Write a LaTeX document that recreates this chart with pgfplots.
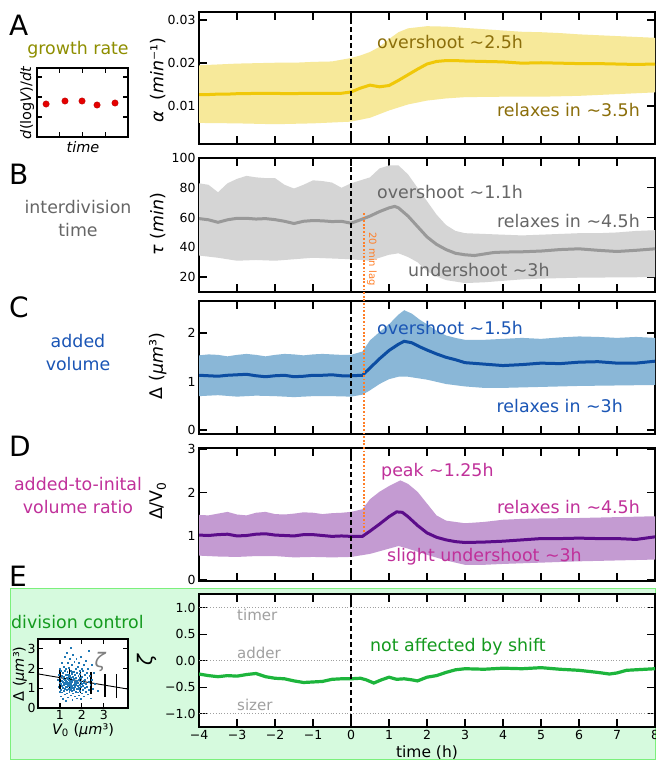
\documentclass[border=0pt]{standalone}
\usepackage{fontspec}
\setmainfont{DejaVu Sans}
\usepackage{pgfplots}
\pgfplotsset{compat=1.18}
\usepgfplotslibrary{fillbetween}

\definecolor{aline}{HTML}{F0C808}
\definecolor{aband}{HTML}{F7E99A}
\definecolor{atext}{HTML}{8B6E0A}
\definecolor{atitle}{HTML}{8E8E00}
\definecolor{bline}{HTML}{999999}
\definecolor{bband}{HTML}{D5D5D5}
\definecolor{btext}{HTML}{666666}
\definecolor{cline}{HTML}{0C4DA2}
\definecolor{cband}{HTML}{8AB7D7}
\definecolor{ctext}{HTML}{1A55B5}
\definecolor{dline}{HTML}{5B0C8A}
\definecolor{dband}{HTML}{C49BD2}
\definecolor{dtext}{HTML}{C0309A}
\definecolor{eline}{HTML}{1DB53C}
\definecolor{etext}{HTML}{149A1E}
\definecolor{boxfill}{HTML}{D6FADE}
\definecolor{boxline}{HTML}{7CF07C}
\definecolor{regime}{HTML}{A0A0A0}
\definecolor{scat}{HTML}{1F77B4}
\definecolor{lag}{HTML}{FF7F28}

\newcommand\ann{\fontsize{17.4}{23}\selectfont}

\pgfplotsset{
  panel/.style={scale only axis, width=456pt, anchor=north west,
    xmin=-4, xmax=8, xtick={-4,...,8}, xticklabels={},
    scaled y ticks=false,
    tick align=inside, tick pos=both, major tick length=8pt,
    tick style={black, line width=1.4pt},
    axis line style={black, line width=1.7pt},
    tick label style={font=\fontsize{12.5}{14}\selectfont},
    axis background/.style={fill=white}},
  inset/.style={scale only axis, anchor=north west,
    tick align=inside, tick pos=both, major tick length=5pt,
    tick style={black, line width=1.1pt},
    axis line style={black, line width=1.3pt},
    tick label style={font=\fontsize{12.5}{14}\selectfont},
    axis background/.style={fill=white}},
  zero/.style={black, dashed, dash pattern=on 5pt off 3pt, line width=1.1pt},
}
\tikzset{lbl/.style={inner sep=0pt}}

\begin{document}
\begin{tikzpicture}[x=1pt,y=1pt]
\filldraw[fill=boxfill, draw=boxline, line width=1.2pt] (10.6,-588.6) rectangle (655.4,-759.6);

% ---------------- A: growth rate
\begin{axis}[panel, at={(199pt,-12pt)}, height=132pt,
  ymin=0.0012, ymax=0.0319, ytick={0.01,0.02,0.03}, yticklabels={0.01,0.02,0.03}]
\addplot[draw=none, name path=au] coordinates {(-4,0.0195)(-3.5,0.0197)(-3,0.0199)(-2.5,0.0200)(-2,0.0201)(-1.5,0.0201)(-1,0.0203)(-0.5,0.0204)(0,0.0212)(0.25,0.0218)(0.5,0.0226)(0.75,0.0238)(1,0.0256)(1.25,0.0272)(1.5,0.0281)(2,0.0286)(2.5,0.0285)(3,0.0282)(3.5,0.0279)(4,0.0276)(4.5,0.0273)(5,0.0272)(5.5,0.0270)(6,0.0267)(6.5,0.0265)(7,0.0263)(7.5,0.0261)(8,0.0259)};
\addplot[draw=none, name path=al] coordinates {(-4,0.0061)(-3,0.0060)(-2,0.0058)(-1,0.0060)(-0.5,0.0062)(0,0.0064)(0.5,0.0073)(1,0.0090)(1.5,0.0104)(2,0.0113)(2.5,0.0118)(3,0.0121)(4,0.0122)(5,0.0122)(6,0.0124)(7,0.0128)(8,0.0132)};
\addplot[fill=aband, draw=none] fill between[of=au and al];
\addplot[aline, line width=3pt] coordinates {(-4,0.0127)(-3.75,0.0127)(-3.5,0.0128)(-3.25,0.0128)(-3,0.0129)(-2.75,0.0129)(-2.5,0.0130)(-2.25,0.0130)(-2,0.0130)(-1.75,0.0129)(-1.5,0.0129)(-1.25,0.0130)(-1,0.0130)(-0.75,0.0130)(-0.5,0.0130)(-0.25,0.0130)(0,0.0133)(0.25,0.0142)(0.5,0.0149)(0.75,0.0145)(1,0.0148)(1.25,0.0160)(1.5,0.0173)(1.75,0.0186)(2,0.0198)(2.25,0.0204)(2.5,0.0206)(2.75,0.0206)(3,0.0205)(3.5,0.0204)(4,0.0203)(4.5,0.0200)(5,0.0201)(5.5,0.0200)(6,0.0199)(6.5,0.0199)(7,0.0198)(7.5,0.0197)(8,0.0198)};
\addplot[zero] coordinates {(0,0.0012)(0,0.0319)};
\end{axis}

% ---------------- B: interdivision time
\begin{axis}[panel, at={(199pt,-158pt)}, height=134pt,
  ymin=10, ymax=100, ytick={20,40,60,80,100}, yticklabels={20,40,60,80,100}]
\addplot[draw=none, name path=bu] coordinates {(-4,83)(-3.75,82)(-3.5,77)(-3.25,83)(-3,86)(-2.75,88)(-2.5,87)(-2.25,86.5)(-2,86.5)(-1.75,82)(-1.5,79.5)(-1.25,82)(-1,85)(-0.75,84.5)(-0.5,83.5)(-0.25,80)(0,83)(0.25,85)(0.5,87)(0.75,93)(1,95)(1.25,95)(1.5,89)(1.75,80)(2,71)(2.25,62)(2.5,55)(2.75,51)(3,49.5)(3.5,49)(4,48.5)(4.5,48)(5,48.5)(5.5,49)(6,49.5)(6.5,49.5)(7,50)(7.5,51)(8,51.5)};
\addplot[draw=none, name path=bl] coordinates {(-4,34.5)(-3.5,33)(-3,31)(-2.5,31.5)(-2,31)(-1.5,32)(-1,33)(-0.5,32.5)(0,32)(0.25,31.5)(0.5,31)(0.75,33)(1,35)(1.25,36)(1.5,33.5)(1.75,30)(2,24)(2.25,20.5)(2.5,18)(3,16)(3.5,16.5)(4,17.5)(4.5,18.5)(5,19)(6,19.6)(7,19.8)(8,20)};
\addplot[fill=bband, draw=none] fill between[of=bu and bl];
\addplot[bline, line width=3pt] coordinates {(-4,59.3)(-3.75,58.5)(-3.5,56.8)(-3.25,58.5)(-3,59.5)(-2.75,59.5)(-2.5,59)(-2.25,59.3)(-2,58.6)(-1.75,57.5)(-1.5,56)(-1.25,57.5)(-1,58)(-0.75,57.8)(-0.5,57.3)(-0.25,57.5)(0,56.2)(0.25,58.5)(0.5,61)(0.75,64)(1,66.5)(1.15,67.5)(1.25,66.5)(1.5,61)(1.75,54)(2,47)(2.25,42)(2.5,38.5)(2.75,36)(3,35)(3.25,34.5)(3.5,35.5)(3.75,36.5)(4,36.8)(4.5,37)(5,37.5)(5.5,38.5)(6,39)(6.5,38)(7,37.2)(7.5,38)(8,39)};
\addplot[zero] coordinates {(0,10)(0,100)};
\coordinate (lagtop) at (axis cs:0.333,63);
\end{axis}

% ---------------- C: added volume
\begin{axis}[panel, at={(199pt,-301pt)}, height=133pt,
  ymin=-0.08, ymax=2.66, ytick={0,1,2}, yticklabels={0,1,2}]
\addplot[draw=none, name path=cu] coordinates {(-4,1.54)(-3.75,1.56)(-3.5,1.55)(-3.25,1.52)(-3,1.55)(-2.75,1.57)(-2.5,1.55)(-2.25,1.52)(-2,1.55)(-1.75,1.57)(-1.5,1.56)(-1.25,1.54)(-1,1.56)(-0.75,1.57)(-0.5,1.56)(-0.25,1.55)(0,1.55)(0.3,1.62)(0.5,1.85)(0.75,2.02)(1,2.18)(1.25,2.38)(1.4,2.47)(1.6,2.40)(1.8,2.28)(2,2.18)(2.25,2.05)(2.5,1.95)(2.75,1.90)(3,1.86)(3.5,1.86)(4,1.88)(4.5,1.90)(5,1.88)(5.5,1.91)(6,1.93)(6.5,1.92)(7,1.90)(7.5,1.92)(8,1.90)};
\addplot[draw=none, name path=cl] coordinates {(-4,0.70)(-3.5,0.72)(-3,0.69)(-2.5,0.71)(-2,0.70)(-1.5,0.68)(-1,0.70)(-0.5,0.70)(0,0.69)(0.3,0.73)(0.5,0.82)(0.75,0.95)(1,1.05)(1.25,1.10)(1.5,1.10)(2,1.04)(2.5,0.95)(3,0.90)(3.5,0.87)(4,0.87)(5,0.89)(6,0.91)(7,0.92)(8,0.93)};
\addplot[fill=cband, draw=none] fill between[of=cu and cl];
\addplot[cline, line width=3pt] coordinates {(-4,1.13)(-3.75,1.12)(-3.5,1.11)(-3.25,1.13)(-3,1.14)(-2.75,1.15)(-2.5,1.12)(-2.25,1.10)(-2,1.12)(-1.75,1.13)(-1.5,1.10)(-1.25,1.11)(-1,1.13)(-0.75,1.13)(-0.5,1.14)(-0.25,1.12)(0,1.12)(0.3,1.13)(0.5,1.28)(0.75,1.47)(1,1.64)(1.25,1.77)(1.4,1.83)(1.6,1.80)(1.8,1.72)(2,1.65)(2.25,1.57)(2.5,1.50)(2.75,1.45)(3,1.39)(3.5,1.36)(4,1.33)(4.5,1.35)(5,1.38)(5.5,1.37)(6,1.40)(6.5,1.41)(7,1.38)(7.5,1.38)(8,1.42)};
\addplot[zero] coordinates {(0,-0.08)(0,2.66)};
\end{axis}

% ---------------- D: added-to-initial ratio
\begin{axis}[panel, at={(199pt,-448pt)}, height=133pt,
  ymin=-0.02, ymax=3.02, ytick={0,1,2,3}, yticklabels={0,1,2,3}]
\addplot[draw=none, name path=du] coordinates {(-4,1.49)(-3.75,1.48)(-3.5,1.52)(-3.25,1.56)(-3,1.50)(-2.75,1.48)(-2.5,1.54)(-2.25,1.56)(-2,1.51)(-1.75,1.50)(-1.5,1.52)(-1.25,1.55)(-1,1.54)(-0.75,1.51)(-0.5,1.53)(-0.25,1.54)(0,1.56)(0.3,1.62)(0.5,1.85)(0.75,2.02)(1,2.15)(1.3,2.28)(1.5,2.20)(1.75,2.02)(2,1.75)(2.25,1.48)(2.5,1.36)(3,1.30)(3.5,1.33)(4,1.38)(4.5,1.40)(5,1.41)(6,1.42)(7,1.44)(8,1.46)};
\addplot[draw=none, name path=dl] coordinates {(-4,0.56)(-3.5,0.54)(-3,0.53)(-2.5,0.55)(-2,0.55)(-1.5,0.52)(-1,0.53)(-0.5,0.52)(0,0.53)(0.5,0.60)(1,0.72)(1.25,0.78)(1.5,0.72)(2,0.58)(2.5,0.45)(3,0.35)(3.5,0.35)(4,0.37)(5,0.40)(6,0.43)(7,0.45)(8,0.47)};
\addplot[fill=dband, draw=none] fill between[of=du and dl];
\addplot[dline, line width=3pt] coordinates {(-4,1.03)(-3.75,1.02)(-3.5,1.04)(-3.25,1.05)(-3,1.01)(-2.75,1.02)(-2.5,1.05)(-2.25,1.06)(-2,1.03)(-1.75,1.02)(-1.5,1.01)(-1.25,1.04)(-1,1.04)(-0.75,1.02)(-0.5,1.00)(-0.25,1.01)(0,1.00)(0.3,1.00)(0.5,1.12)(0.75,1.28)(1,1.45)(1.2,1.56)(1.35,1.55)(1.5,1.45)(1.75,1.25)(2,1.08)(2.25,0.98)(2.5,0.92)(2.75,0.88)(3,0.86)(3.5,0.87)(4,0.89)(4.5,0.92)(5,0.95)(5.5,0.95)(6,0.96)(6.5,0.95)(7,0.95)(7.5,0.93)(8,0.99)};
\addplot[zero] coordinates {(0,-0.02)(0,3.02)};
\coordinate (lagbot) at (axis cs:0.333,1.09);
\end{axis}

% ---------------- E: division control
\begin{axis}[panel, at={(199pt,-594pt)}, height=133pt,
  ymin=-1.25, ymax=1.26, ytick={-1,-0.5,0,0.5,1}, yticklabels={−1.0,−0.5,0.0,0.5,1.0},
  xticklabels={−4,−3,−2,−1,0,1,2,3,4,5,6,7,8}]
\addplot[regime, dotted, line width=0.8pt] coordinates {(-4,1)(8,1)};
\addplot[regime, dotted, line width=0.8pt] coordinates {(-4,0)(8,0)};
\addplot[regime, dotted, line width=0.8pt] coordinates {(-4,-1)(8,-1)};
\addplot[eline, line width=3.2pt] coordinates {(-4,-0.25)(-3.75,-0.28)(-3.5,-0.30)(-3.25,-0.28)(-3,-0.29)(-2.75,-0.26)(-2.5,-0.24)(-2.25,-0.30)(-2,-0.33)(-1.75,-0.34)(-1.5,-0.38)(-1.25,-0.41)(-1,-0.40)(-0.75,-0.39)(-0.5,-0.35)(-0.25,-0.34)(0,-0.34)(0.25,-0.33)(0.4,-0.36)(0.6,-0.42)(0.8,-0.36)(1,-0.31)(1.2,-0.35)(1.4,-0.34)(1.6,-0.36)(1.75,-0.38)(2,-0.31)(2.25,-0.28)(2.5,-0.22)(2.75,-0.17)(3,-0.15)(3.5,-0.16)(4,-0.14)(4.5,-0.15)(5,-0.13)(5.5,-0.16)(6,-0.18)(6.5,-0.22)(6.8,-0.25)(7,-0.23)(7.25,-0.18)(7.5,-0.17)(8,-0.15)};
\addplot[zero] coordinates {(0,-1.25)(0,1.26)};
\end{axis}

% ---------------- inset A
\begin{axis}[inset, at={(37pt,-68pt)}, width=91pt, height=69pt,
  xmin=0, xmax=4, ymin=0, ymax=3.45, xtick={1,2,3}, ytick={1,2,3},
  xticklabels={}, yticklabels={}]
\addplot[only marks, mark=*, mark size=3.2pt, draw=red!75!black, fill=red!90!black] coordinates {(0.4,1.65)(1.23,1.8)(1.98,1.8)(2.64,1.6)(3.43,1.7)};
\end{axis}

% ---------------- inset E
\begin{axis}[inset, at={(38pt,-639pt)}, width=90pt, height=69pt,
  xmin=0, xmax=4.1, ymin=0, ymax=3.5, xtick={1,2,3}, ytick={0,1,2,3},
  xticklabels={1,2,3}, yticklabels={0,1,2,3},
  xticklabel style={yshift=1pt}, yticklabel style={xshift=1pt}]
\addplot[only marks, mark=square*, mark size=0.45pt, scat] coordinates {
(0.88,1.45)(0.92,1.1)(0.95,1.7)(0.97,0.85)(0.99,1.3)(0.99,2.0)
(1.01,1.55)(1.02,0.95)(1.03,1.25)(1.04,1.9)(1.05,0.6)(1.06,1.4)(1.07,1.15)(1.08,2.3)(1.09,1.65)(1.1,0.8)
(1.11,1.35)(1.12,1.05)(1.13,1.8)(1.14,0.45)(1.15,1.5)(1.16,2.1)(1.17,1.2)(1.18,0.9)(1.19,1.6)(1.2,2.6)(1.2,1.3)
(1.21,0.7)(1.22,1.45)(1.23,1.9)(1.24,1.1)(1.25,1.7)(1.26,0.35)(1.27,1.25)(1.28,2.0)(1.29,0.95)(1.3,1.55)(1.3,2.8)
(1.31,1.35)(1.32,0.75)(1.33,1.85)(1.34,1.15)(1.35,2.3)(1.36,1.5)(1.37,0.55)(1.38,1.3)(1.39,1.7)(1.4,1.0)(1.4,2.05)
(1.41,1.45)(1.42,0.85)(1.43,1.65)(1.44,1.2)(1.45,2.5)(1.46,1.4)(1.47,0.65)(1.48,1.9)(1.49,1.1)(1.5,1.55)(1.5,3.05)
(1.51,1.25)(1.52,0.9)(1.53,1.75)(1.54,2.2)(1.55,1.35)(1.56,0.4)(1.57,1.6)(1.58,1.05)(1.59,2.7)(1.6,1.45)(1.6,0.75)
(1.61,1.85)(1.62,1.2)(1.63,1.5)(1.64,0.95)(1.65,2.35)(1.66,1.35)(1.67,0.6)(1.68,1.7)(1.69,1.1)(1.7,2.0)(1.7,1.4)
(1.71,0.85)(1.72,1.55)(1.73,1.25)(1.74,2.5)(1.75,1.0)(1.76,1.8)(1.77,0.5)(1.78,1.4)(1.79,1.15)(1.8,2.1)
(1.81,1.3)(1.82,0.8)(1.83,1.65)(1.84,1.05)(1.85,2.3)(1.86,1.45)(1.87,0.65)(1.88,1.9)(1.89,1.2)(1.9,1.55)
(1.91,0.9)(1.92,1.75)(1.93,1.35)(1.94,2.6)(1.95,1.1)(1.96,0.45)(1.97,1.5)(1.98,2.0)(1.99,1.25)(2.0,0.75)
(2.01,1.6)(2.02,1.15)(2.04,1.9)(2.05,0.95)(2.06,1.4)(2.08,2.2)(2.09,1.3)(2.1,0.6)
(2.11,1.7)(2.13,1.05)(2.14,1.45)(2.16,2.4)(2.17,0.85)(2.19,1.25)(2.2,1.8)
(2.22,1.1)(2.24,1.55)(2.25,0.7)(2.27,2.0)(2.29,1.35)
(2.32,0.95)(2.35,1.65)(2.38,1.2)(2.42,0.5)(2.45,1.45)(2.5,1.0)(2.55,1.8)(2.6,1.25)(2.7,0.9)(2.3,2.9)(2.45,2.2)
(1.25,1.4)(1.35,1.25)(1.45,1.3)(1.55,1.15)(1.65,1.25)(1.3,1.1)(1.4,1.6)(1.5,1.0)(1.6,1.6)(1.7,1.2)
(1.2,1.0)(1.35,1.7)(1.45,0.95)(1.55,1.85)(1.65,1.05)(1.75,1.35)(1.85,1.0)(1.15,1.3)(1.5,1.4)(1.42,1.15)};
\addplot[black, line width=0.9pt] coordinates {(0,1.73)(4.1,0.96)};
\addplot[black, mark=none, draw=none,
  error bars/.cd, y dir=both, y explicit, error mark=none,
  error bar style={black, line width=1.3pt}] coordinates {
  (1.0,1.5) +- (0,0.55) (1.45,1.4) +- (0,0.58) (1.95,1.35) +- (0,0.58)
  (2.42,1.27) +- (0,0.57) (3.05,1.15) +- (0,0.58) (3.58,1.1) +- (0,0.6)};
\end{axis}

\draw[lag, line width=1.7pt, dash pattern=on 1.7pt off 1.9pt] (lagtop) -- (lagbot);

% panel letters
\foreach \l/\y in {A/25.5,B/174,C/307.5,D/446.5,E/576.5}
  \node[lbl, anchor=west, font=\fontsize{28}{30}\selectfont] at (9,-\y) {\l};

% left descriptions
\node[lbl, text=atitle, font=\ann] at (78,-50) {growth rate};
\node[lbl, text=btext, font=\ann, align=center] at (78,-219) {interdivision\\time};
\node[lbl, text=ctext, font=\ann, align=center] at (78,-353) {added\\volume};
\node[lbl, text=dtext, font=\ann, align=center] at (78,-496) {added-to-inital\\volume ratio};
\node[lbl, text=etext, font=\ann, anchor=west] at (11,-622) {division control};

% inset labels
\node[lbl, rotate=90, font=\fontsize{14.5}{16}\selectfont] at (27,-103) {{\itshape d}(log{\itshape V})/{\itshape dt}};
\node[lbl, font=\fontsize{14.5}{16}\selectfont] at (83,-147) {\itshape time};
\node[lbl, rotate=90, font=\fontsize{14.5}{16}\selectfont] at (20,-674) {Δ ({\itshape μm}³)};
\node[lbl, font=\fontsize{14.5}{16}\selectfont] at (83,-730) {{\itshape V}\textsubscript{0} ({\itshape μm}³)};
\node[lbl, text=gray, font=\fontsize{20}{22}\selectfont] at (100,-662) {\itshape ζ};

% y labels of main panels
\node[lbl, rotate=90, font=\ann] at (158,-80) {{\itshape α}\ \ ({\itshape min}⁻¹)};
\node[lbl, rotate=90, font=\ann] at (158,-224) {{\itshape τ} ({\itshape min})};
\node[lbl, rotate=90, font=\ann] at (158,-366) {Δ ({\itshape μm}³)};
\node[lbl, rotate=90, font=\ann] at (158,-501) {Δ/V\textsubscript{0}};
\node[lbl, rotate=90, font=\fontsize{20}{22}\selectfont] at (147,-660) {\itshape ζ};
\node[lbl, font=\fontsize{15.5}{17}\selectfont] at (427,-753) {time (h)};

% annotations
\node[lbl, anchor=west, text=atext, font=\ann] at (377,-42) {overshoot \textasciitilde 2.5h};
\node[lbl, anchor=east, text=atext, font=\ann] at (640,-110) {relaxes in \textasciitilde 3.5h};
\node[lbl, anchor=west, text=btext, font=\ann] at (377,-192) {overshoot \textasciitilde 1.1h};
\node[lbl, anchor=east, text=btext, font=\ann] at (640,-221) {relaxes in \textasciitilde 4.5h};
\node[lbl, anchor=west, text=btext, font=\ann] at (408,-270) {undershoot \textasciitilde 3h};
\node[lbl, rotate=-90, text=lag, font=\fontsize{10}{11}\selectfont] at (372,-259) {20 min lag};
\node[lbl, anchor=west, text=ctext, font=\ann] at (377,-328) {overshoot \textasciitilde 1.5h};
\node[lbl, anchor=east, text=ctext, font=\ann] at (623,-406) {relaxes in \textasciitilde 3h};
\node[lbl, anchor=west, text=dtext, font=\ann] at (381,-472) {peak \textasciitilde 1.25h};
\node[lbl, anchor=east, text=dtext, font=\ann] at (640,-507) {relaxes in \textasciitilde 4.5h};
\node[lbl, anchor=west, text=dtext, font=\ann] at (387,-557) {slight undershoot \textasciitilde 3h};
\node[lbl, anchor=west, text=etext, font=\ann] at (370,-647) {not affected by shift};
\node[lbl, anchor=west, text=regime, font=\fontsize{15}{17}\selectfont] at (237,-615) {timer};
\node[lbl, anchor=west, text=regime, font=\fontsize{15}{17}\selectfont] at (237,-653) {adder};
\node[lbl, anchor=west, text=regime, font=\fontsize{15}{17}\selectfont] at (237,-705) {sizer};

\pgfresetboundingbox
\useasboundingbox (0,0) rectangle (656,-761);
\end{tikzpicture}
\end{document}
